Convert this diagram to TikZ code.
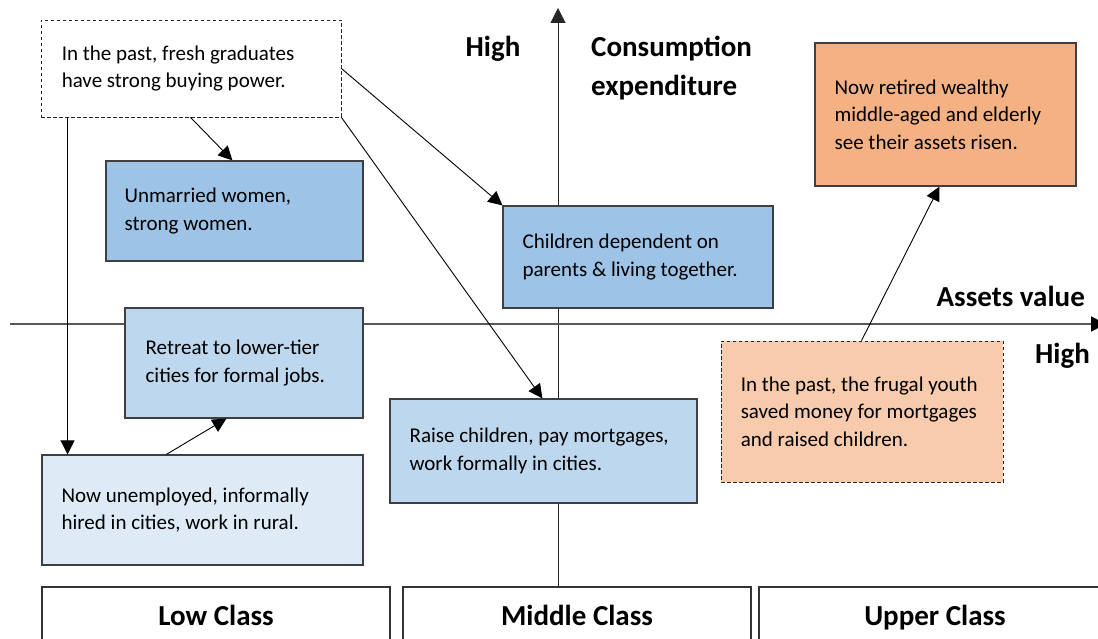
\documentclass[tikz,border=0pt]{standalone}
\usepackage{fontspec}
\setmainfont{Carlito}
\usetikzlibrary{arrows.meta,calc}
\definecolor{bluedark}{HTML}{9DC3E6}
\definecolor{bluemid}{HTML}{BDD7EE}
\definecolor{bluelight}{HTML}{DEEBF7}
\definecolor{orangedark}{HTML}{F4B183}
\definecolor{orangelight}{HTML}{F8CBAD}
\definecolor{edgegray}{HTML}{3F3F3F}
\definecolor{axisgray}{HTML}{595959}
\tikzset{
  x=1pt, y=-1pt,
  box/.style={draw=edgegray, line width=1.2pt, rectangle, inner sep=0pt},
  dbox/.style={draw=black!85, line width=0.9pt, dash pattern=on 3.5pt off 2.5pt, rectangle, inner sep=0pt},
  txt/.style={anchor=west, align=left, inner sep=0pt, font=\fontsize{21}{27.5}\selectfont},
  boldlbl/.style={font=\fontsize{29}{39}\selectfont\bfseries, inner sep=0pt},
  conn/.style={draw=black, line width=0.9pt, -{Triangle[width=14pt,length=14pt]}},
  axis/.style={draw=axisgray, line width=1.4pt},
  classbox/.style={draw=black!80, line width=1.2pt, rectangle, inner sep=0pt, minimum height=62pt, text height=20pt, text depth=6pt, font=\fontsize{29}{35}\selectfont\bfseries},
}
\begin{document}
\begin{tikzpicture}
\clip (0,0) rectangle (1098,639);
\fill[white] (0,0) rectangle (1098,639);

% axes
\coordinate (ytop) at (558,8);
\coordinate (ybot) at (558,586);
\coordinate (xleft) at (10,324);
\coordinate (xright) at (1106,324);
\draw[axis, draw=black!85, line width=1pt, -{Triangle[width=15pt,length=15pt]}] (ybot) -- (ytop);
\draw[axis, -{Triangle[width=15pt,length=15pt,color=black]}] (xleft) -- (xright);

% axis labels
\node[boldlbl, anchor=center] (hy) at (493,49) {High};
\node[boldlbl, anchor=west, align=left] (cexp) at (591,68.5) {Consumption\\expenditure};
\node[boldlbl, anchor=east] (av) at (1085,296) {Assets value};
\node[boldlbl, anchor=east] (hx) at (1090,356) {High};

% boxes
\node[dbox, fill=white, minimum width=300pt, minimum height=97pt] (g) at (191,68.5) {};
\node[txt] at ([xshift=21pt]g.west) {In the past, fresh graduates\\have strong buying power.};

\node[box, fill=bluedark, minimum width=257pt, minimum height=100pt] (w) at (234.5,211) {};
\node[txt] at ([xshift=19pt]w.west) {Unmarried women,\\strong women.};

\node[box, fill=bluedark, minimum width=270pt, minimum height=102pt] (c) at (638,257) {};
\node[txt] at ([xshift=20pt]c.west) {Children dependent on\\parents \& living together.};

\node[box, fill=orangedark, minimum width=261pt, minimum height=143pt] (n) at (945.5,114.5) {};
\node[txt] at ([xshift=20pt]n.west) {Now retired wealthy\\middle-aged and elderly\\see their assets risen.};

\node[box, fill=bluemid, minimum width=238pt, minimum height=110pt] (t) at (244,363) {};
\node[txt] at ([xshift=21pt]t.west) {Retreat to lower-tier\\cities for formal jobs.};

\node[box, fill=bluelight, minimum width=321pt, minimum height=110pt] (u) at (202.5,510) {};
\node[txt] at ([xshift=20pt]u.west) {Now unemployed, informally\\hired in cities, work in rural.};

\node[box, fill=bluemid, minimum width=307pt, minimum height=104pt] (r) at (543.5,451) {};
\node[txt] at ([xshift=20pt]r.west) {Raise children, pay mortgages,\\work formally in cities.};

\node[dbox, fill=orangelight, minimum width=282pt, minimum height=141pt] (o) at (862,411.5) {};
\node[txt] at ([xshift=20pt]o.west) {In the past, the frugal youth\\saved money for mortgages\\and raised children.};

% class boxes
\node[classbox, minimum width=348pt] (low) at (216,618) {Low Class};
\node[classbox, minimum width=348pt] (mid) at (577,618) {Middle Class};
\node[classbox, minimum width=352pt] (up) at (935,618) {Upper Class};

% connectors
\draw[conn] ([xshift=150pt]g.south west) -- ([xshift=127pt]w.north west);
\draw[conn] (g.east) -- (c.north west);
\draw[conn] (g.south east) -- ([xshift=153pt]r.north west);
\draw[conn] ([xshift=27pt]g.south west) -- ([xshift=27pt]g.south west |- u.north);
\draw[conn] ([xshift=125pt]u.north west) -- ([xshift=102pt]t.south west);
\draw[conn] ([xshift=141pt]o.north west) -- ([xshift=125pt]n.south west);
\end{tikzpicture}
\end{document}
